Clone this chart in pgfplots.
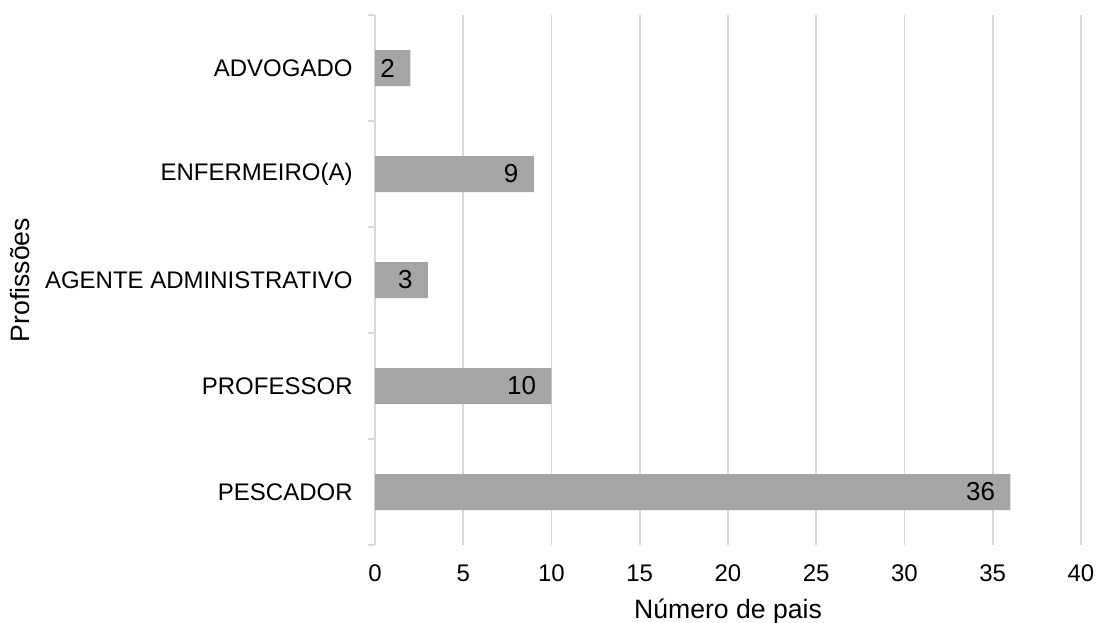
\documentclass[12pt,border=0pt]{standalone}
\usepackage{fontspec}
\setmainfont{Liberation Sans}
\usepackage{pgfplots}
\pgfplotsset{compat=1.18}
\definecolor{barfill}{HTML}{A5A5A5}
\definecolor{gridc}{HTML}{D9D9D9}

\begin{document}
\begin{tikzpicture}
\begin{axis}[
  at={(0,0)}, anchor=south west,
  scale only axis,
  width=353pt, height=265pt,
  xbar, bar width=18pt,
  xmin=0, xmax=40,
  ymin=-0.5, ymax=4.5,
  xtick={0,5,...,40},
  ytick={0,1,2,3,4},
  yticklabels={PESCADOR,PROFESSOR,AGENTE ADMINISTRATIVO,ENFERMEIRO(A),ADVOGADO},
  minor ytick={-0.5,0.5,...,4.5},
  major tick length=0pt,
  minor tick length=3.5pt,
  tick align=outside,
  tick style={gridc, line width=0.8pt},
  minor tick style={gridc, line width=0.8pt},
  xmajorgrids,
  major grid style={gridc, line width=0.8pt},
  axis x line*=bottom,
  axis y line*=left,
  x axis line style={draw=none},
  y axis line style={gridc, line width=0.8pt, -},
  /pgf/number format/assume math mode=true,
  xticklabel style={anchor=base, yshift=-18pt},
  yticklabel style={xshift=-7pt},
  xlabel={Número de pais},
  xlabel style={at={(axis description cs:0.5,0)}, anchor=base, yshift=-36.5pt,
    font=\fontsize{13.3}{16}\selectfont},
  ylabel={Profissões},
  ylabel style={at={(axis description cs:-0.503,0.5)}, anchor=center, rotate=0,
    font=\fontsize{13.3}{16}\selectfont},
  nodes near coords={\fontsize{13}{15}\selectfont\pgfmathprintnumber{\pgfplotspointmeta}},
  every node near coord/.append style={anchor=east, xshift=-3.5pt, black},
]
\addplot[draw=none, fill=barfill] coordinates {(36,0) (10,1) (3,2) (9,3) (2,4)};
\end{axis}
\pgfresetboundingbox
\path (-187.5pt,-38.5pt) rectangle (361pt,272.5pt);
\end{tikzpicture}
\end{document}
